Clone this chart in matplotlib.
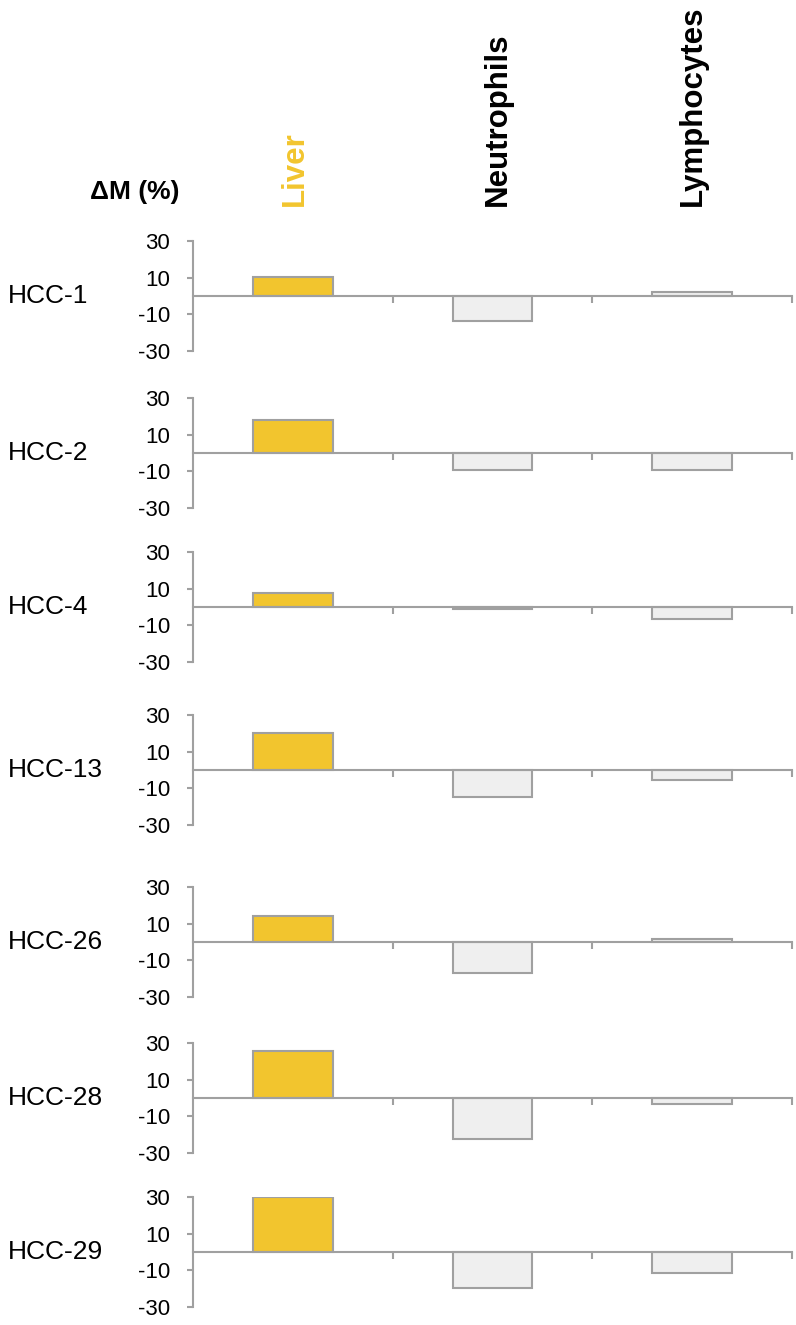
import numpy as np
import matplotlib.pyplot as plt
import matplotlib.transforms as mtransforms

plt.rcParams['font.family'] = ['Liberation Sans', 'DejaVu Sans']

# Daten
samples = ['HCC-1', 'HCC-2', 'HCC-4', 'HCC-13', 'HCC-26', 'HCC-28', 'HCC-29']
tissues = ['Liver', 'Neutrophils', 'Lymphocytes']
liver = [10.4, 17.8, 7.6, 20.2, 14.2, 25.8, 30.0]
neutrophils = [-13.9, -9.5, -1.3, -14.7, -16.7, -22.4, -19.6]
lymphocytes = [2.3, -9.1, -6.4, -5.6, 1.8, -3.1, -11.5]
yticks = [-30, -10, 10, 30]

gold = '#F2C52E'
grey_fill = '#EFEFEF'
grey_line = '#A0A0A0'

W, H = 796, 1325
fig = plt.figure(figsize=(W / 100, H / 100), dpi=100)

# Pixelpositionen der Panels (oben = 30, unten = -30)
tops = [241, 398, 552, 715, 887, 1043, 1197]
panel_h = 110
left_px, right_px = 193, 792

for i, name in enumerate(samples):
    ax = fig.add_axes([left_px / W, 1 - (tops[i] + panel_h) / H,
                       (right_px - left_px) / W, panel_h / H])
    vals = [liver[i], neutrophils[i], lymphocytes[i]]
    x = np.arange(len(tissues)) + 0.5
    ax.bar(x, vals, width=0.4, color=[gold, grey_fill, grey_fill],
           edgecolor=grey_line, linewidth=1.5, zorder=2)
    ax.set_xlim(0, 3)
    ax.set_ylim(-30, 30)
    ax.set_yticks(yticks)
    ax.set_yticklabels([str(v) for v in yticks])
    ax.set_xticks([1, 2, 3])
    ax.set_xticklabels([])
    for s in ['top', 'right']:
        ax.spines[s].set_visible(False)
    ax.spines['bottom'].set_position(('data', 0))
    ax.spines['bottom'].set_zorder(3)
    for s in ['left', 'bottom']:
        ax.spines[s].set_color(grey_line)
        ax.spines[s].set_linewidth(1.5)
    ax.tick_params(axis='y', direction='out', length=4.5, width=1.5,
                   color=grey_line, pad=12, labelsize=16)
    ax.tick_params(axis='x', direction='out', length=5, width=1.5,
                   color=grey_line)
    ax.patch.set_alpha(0)
    trans = mtransforms.blended_transform_factory(fig.transFigure, ax.transData)
    ax.text(8 / W, 0, name, transform=trans, fontsize=19,
            ha='left', va='center')

# Kopfzeile
fig.text(90 / W, 1 - 199 / H, '\u0394M (%)', fontsize=19, fontweight='bold',
         ha='left', va='baseline')
header_x = [295, 498, 693]
header_col = [gold, 'black', 'black']
for t, xp, c in zip(tissues, header_x, header_col):
    fig.text(xp / W, 1 - 206 / H, t, rotation=90, fontsize=22.5,
             fontweight='bold', color=c, ha='center', va='bottom')

fig.savefig('out.png', dpi=100)
